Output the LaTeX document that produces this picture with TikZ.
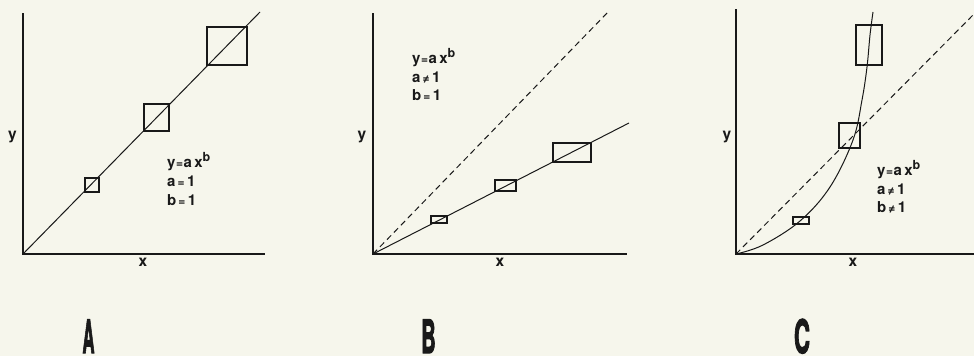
\documentclass[tikz,border=0pt]{standalone}
\usepackage{fontspec}
\setmainfont{TeX Gyre Heros}
\newfontfamily\capfont{TeX Gyre Heros}[FakeBold=3]
\definecolor{bgc}{RGB}{246,246,236}
\definecolor{inkc}{RGB}{25,25,25}
\newcommand{\rel}[1]{{\fontsize{12}{12}\selectfont #1}}
\newcommand{\supb}{\raisebox{6pt}{\fontsize{12.5}{12.5}\selectfont b}}
\newcommand{\eqline}{y\kern0.5pt\rel{=}\kern0.5pt a\kern2.5pt x\supb}
\newcommand{\bigletter}[2]{\scalebox{#1}[1]{\capfont\bfseries\fontsize{46}{46}\selectfont #2}}
\begin{document}
\begin{tikzpicture}[x=1pt,y=-1pt,
  axis/.style={draw=inkc,line width=1.3pt},
  curve/.style={draw=inkc,line width=1pt},
  box/.style={draw=inkc,line width=1.1pt},
  dashline/.style={draw=inkc,line width=1pt,dash pattern=on 6pt off 4pt},
  lab/.style={font=\fontsize{15.5}{15.5}\selectfont\bfseries,text=inkc,inner sep=0pt,anchor=base},
  eq/.style={font=\fontsize{15}{15}\selectfont\bfseries,text=inkc,inner sep=0pt,anchor=base west},
  big/.style={text=inkc,inner sep=0pt,anchor=base}]
\fill[bgc] (0,0) rectangle (974,356);
\useasboundingbox (0,0) rectangle (974,356);

% ---------- Panel A ----------
\coordinate (A0) at (23,254);
\coordinate (Ay) at (23,13);
\coordinate (Ax) at (265,254);
\coordinate (Aend) at (260,12);
\draw[axis] (Ay) -- (A0) -- (Ax);
\draw[curve] (A0) -- (Aend);
\draw[box] (207,27) rectangle (247,65);
\draw[box] (144,104) rectangle (169,131);
\draw[box] (85,178) rectangle (99,192);
\node[lab] (Aylab) at (12.5,139.5) {y};
\node[lab] (Axlab) at (143,266.5) {x};
\node[eq] (Aeq1) at (167,167) {\eqline};
\node[eq] (Aeq2) at (167,186) {a\kern2pt\rel{=}\kern2.5pt1};
\node[eq] (Aeq3) at (167,205) {b\kern2pt\rel{=}\kern2.5pt1};
\node[big] (Alab) at (88.5,353) {\bigletter{0.36}{A}};

% ---------- Panel B ----------
\coordinate (B0) at (373,254);
\coordinate (By) at (373,13);
\coordinate (Bx) at (627,254);
\coordinate (Bdash) at (609,11);
\coordinate (Bend) at (629,123);
\draw[axis] (By) -- (B0) -- (Bx);
\draw[dashline] (B0) -- (Bdash);
\draw[curve] (B0) -- (Bend);
\draw[box] (553,143) rectangle (591,162);
\draw[box] (495,180) rectangle (516,191);
\draw[box] (431,216) rectangle (447,223);
\node[lab] (Bylab) at (362,139.5) {y};
\node[lab] (Bxlab) at (500,266.5) {x};
\node[eq] (Beq1) at (412,63.5) {\eqline};
\node[eq] (Beq2) at (412,82) {a\kern2pt\rel{≠}\kern2.5pt1};
\node[eq] (Beq3) at (412,100) {b\kern2pt\rel{=}\kern2.5pt1};
\node[big] (Blab) at (428.5,353) {\bigletter{0.43}{B}};

% ---------- Panel C ----------
\coordinate (C0) at (736,254);
\coordinate (Cy) at (736,9);
\coordinate (Cx) at (974,254);
\coordinate (Cdash) at (974,14);
\draw[axis] (Cy) -- (C0) -- (Cx);
\draw[dashline] (C0) -- (Cdash);
\draw[curve] plot[smooth,tension=0.6] coordinates {(736,254) (763,245) (800,221) (830,187) (853,140) (862,100) (867,67) (870,35) (873,12)};
\draw[box] (856,25) rectangle (882,65);
\draw[box] (839,123) rectangle (860,148);
\draw[box] (793,217) rectangle (809,224);
\node[lab] (Cylab) at (727,139.5) {y};
\node[lab] (Cxlab) at (853,266.5) {x};
\node[eq] (Ceq1) at (877,175) {\eqline};
\node[eq] (Ceq2) at (877,194) {a\kern2pt\rel{≠}\kern2.5pt1};
\node[eq] (Ceq3) at (877,212) {b\kern2pt\rel{≠}\kern2.5pt1};
\node[big] (Clab) at (802,353) {\bigletter{0.48}{C}};
\end{tikzpicture}
\end{document}
